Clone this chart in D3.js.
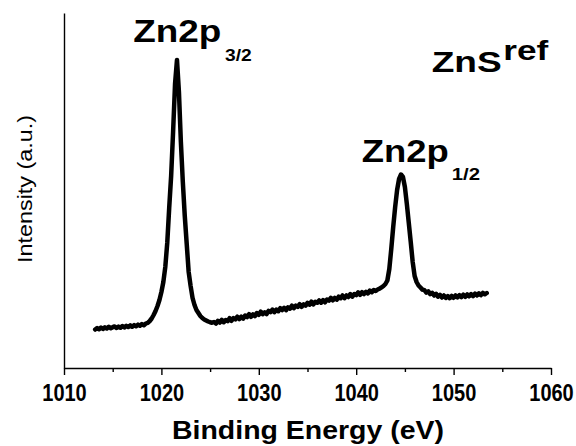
<!DOCTYPE html>
<html>
<head>
<meta charset="utf-8">
<script src="https://cdn.jsdelivr.net/npm/d3@7"></script>
<style>
  html, body { margin: 0; padding: 0; background: #fff; }
  svg { display: block; }
  text { font-family: "Liberation Sans", Arial, Helvetica, sans-serif; fill: #000; }
</style>
</head>
<body>
<svg id="chart" width="576" height="446"></svg>
<script>
// Binding energy grid (eV)
const energy = [
  1013.2,1013.4,1013.6,1013.8,1014.0,1014.2,1014.4,1014.6,1014.8,1015.0,1015.2,1015.4,1015.6,1015.8,1016.0,1016.2,1016.4,1016.6,1016.8,1017.0,
  1017.2,1017.4,1017.6,1017.8,1018.0,1018.2,1018.4,1018.6,1018.8,
  1019.0,1019.2,1019.4,1019.6,1019.8,1020.0,1020.2,1020.4,1020.6,1020.8,1021.0,1021.2,1021.4,1021.6,1021.8,1022.0,1022.2,1022.4,1022.6,1022.8,
  1023.0,1023.2,1023.4,1023.6,1023.8,1024.0,1024.2,1024.4,1024.6,1024.8,1025.0,
  1025.2,1025.4,1025.6,1025.8,1026.0,1026.2,1026.4,1026.6,1026.8,1027.0,1027.2,1027.4,1027.6,1027.8,1028.0,1028.2,1028.4,1028.6,1028.8,1029.0,
  1029.2,1029.4,1029.6,1029.8,1030.0,1030.2,1030.4,1030.6,1030.8,1031.0,1031.2,1031.4,1031.6,1031.8,1032.0,1032.2,1032.4,1032.6,1032.8,1033.0,
  1033.2,1033.4,1033.6,1033.8,1034.0,1034.2,1034.4,1034.6,1034.8,1035.0,1035.2,1035.4,1035.6,1035.8,1036.0,1036.2,1036.4,1036.6,1036.8,1037.0,
  1037.2,1037.4,1037.6,1037.8,1038.0,1038.2,1038.4,1038.6,1038.8,1039.0,1039.2,1039.4,1039.6,1039.8,1040.0,1040.2,1040.4,1040.6,1040.8,1041.0,
  1041.2,1041.4,1041.6,1041.8,1042.0,
  1042.2,1042.4,1042.6,1042.8,1043.0,1043.2,1043.4,1043.6,1043.8,1044.0,1044.2,1044.4,1044.6,1044.8,1045.0,1045.2,1045.4,1045.6,1045.8,1046.0,
  1046.2,1046.4,1046.6,1046.8,1047.0,
  1047.2,1047.4,1047.6,1047.8,1048.0,1048.2,1048.4,1048.6,1048.8,1049.0,1049.2,1049.4,1049.6,1049.8,1050.0,1050.2,1050.4,1050.6,1050.8,1051.0,
  1051.2,1051.4,1051.6,1051.8,1052.0,1052.2,1052.4,1052.6,1052.8,1053.0,1053.2,1053.4
];

// Intensity (a.u.)
const intensity = [
  38.5,39.9,38.8,40.4,39.1,40.7,39.5,41.2,39.7,40.8,41.6,40.0,41.4,40.3,42.0,40.6,42.2,41.0,42.6,41.2,
  42.9,41.7,43.4,42.3,43.9,42.8,44.5,45.2,47.0,
  49.5,53,57,62,68,76,86,101,125,160,192,236,284,308,276,226,186,152,124,96,
  82,70,63,58,55,52,50,48.5,47.5,46.5,45.8,
  45.3,46.0,44.4,47.1,45.4,48.1,45.8,48.0,46.8,49.8,47.2,49.9,48.7,51.3,49.0,51.3,49.4,52.5,50.9,53.8,
  51.2,53.7,51.8,55.0,53.2,56.4,53.8,55.7,54.0,57.1,55.9,58.4,55.8,58.4,56.8,59.8,58.0,60.2,57.8,60.7,
  59.3,62.4,59.8,62.4,61.2,63.8,61.2,63.6,62.3,65.1,63.3,66.4,63.6,66.2,65.2,67.6,65.3,67.9,65.7,68.5,
  67.3,70.1,67.7,70.1,68.3,71.4,69.8,72.5,69.9,72.5,71.0,73.9,71.3,73.9,72.9,75.6,73.2,75.8,74.0,76.1,
  74.6,77.5,75.8,78.0,77.0,
  78.5,79.3,80.6,82.0,84.0,87.5,99,119,141,161,178,189,193.5,191,181,164,145,126,106,92,
  86,82.5,80.5,78.4,77.8,
  75.4,76.7,73.9,75.2,72.5,74.2,71.4,73.2,70.5,72.5,70.1,71.9,69.8,72.1,70.2,72.6,70.6,72.9,70.9,73.3,
  71.2,73.6,71.7,73.9,71.9,74.4,72.5,74.7,72.9,75.1,73.7,75.0
];

const xDomain = [1010, 1060];
const yDomain = [0, 355];
const xMajorTicks = [1010, 1020, 1030, 1040, 1050, 1060];
const xMinorTicks = [1015, 1025, 1035, 1045, 1055];

const xTitle = "Binding Energy (eV)";
const yTitle = "Intensity (a.u.)";
const peakLabels = [
  { main: "Zn2p", sub: "3/2", x: 133.3, y: 42.3, mainLen: 88, subX: 225, subY: 60.7, subLen: 26.7 },
  { main: "Zn2p", sub: "1/2", x: 361.7, y: 162.3, mainLen: 87, subX: 451.7, subY: 180, subLen: 28.3 }
];

const svg = d3.select("#chart");
const x = d3.scaleLinear().domain(xDomain).range([64, 551]);
const y = d3.scaleLinear().domain(yDomain).range([368, 13]);

const data = energy.map((e, i) => ({ e, v: intensity[i] }));

// y axis (line only)
const yAx = svg.append("g")
  .attr("transform", "translate(64,0)")
  .call(d3.axisLeft(y).tickValues([]).tickSizeOuter(0));
yAx.select(".domain").attr("stroke", "#000").attr("stroke-width", 1.4);

// x axis minor ticks
const xMinor = svg.append("g")
  .attr("transform", "translate(0,368)")
  .call(d3.axisBottom(x).tickValues(xMinorTicks).tickSize(4).tickFormat("").tickSizeOuter(0));
xMinor.select(".domain").remove();
xMinor.selectAll(".tick line").attr("stroke", "#000").attr("stroke-width", 1.4);

// x axis major
const xAx = svg.append("g")
  .attr("transform", "translate(0,368)")
  .call(d3.axisBottom(x).tickValues(xMajorTicks).tickSize(7).tickPadding(6.5).tickSizeOuter(0).tickFormat(d3.format("d")));
xAx.select(".domain").attr("stroke", "#000").attr("stroke-width", 1.4);
xAx.selectAll(".tick line").attr("stroke", "#000").attr("stroke-width", 1.4);
xAx.selectAll(".tick text")
  .attr("fill", "#000")
  .attr("transform", "scale(1,1.2)")
  .style("font-family", "'Liberation Sans', Arial, sans-serif")
  .style("font-weight", "bold")
  .style("font-size", "20px");

// spectrum line
const line = d3.line().x(d => x(d.e)).y(d => y(d.v)).curve(d3.curveLinear);
svg.append("path")
  .datum(data)
  .attr("d", line)
  .attr("fill", "none")
  .attr("stroke", "#000")
  .attr("stroke-width", 4.5)
  .attr("stroke-linejoin", "round")
  .attr("stroke-linecap", "round");

// axis titles
svg.append("text")
  .attr("x", 308).attr("y", 439)
  .attr("text-anchor", "middle")
  .style("font-weight", "bold").style("font-size", "26px")
  .attr("textLength", 272).attr("lengthAdjust", "spacingAndGlyphs")
  .text(xTitle);

svg.append("text")
  .attr("transform", "translate(32,189) rotate(-90)")
  .attr("text-anchor", "middle")
  .style("font-size", "20px")
  .attr("textLength", 148).attr("lengthAdjust", "spacingAndGlyphs")
  .text(yTitle);

// peak labels
peakLabels.forEach(p => {
  svg.append("text")
    .attr("x", p.x).attr("y", p.y)
    .style("font-weight", "bold").style("font-size", "31px")
    .attr("textLength", p.mainLen).attr("lengthAdjust", "spacingAndGlyphs")
    .text(p.main);
  svg.append("text")
    .attr("x", p.subX).attr("y", p.subY)
    .style("font-weight", "bold").style("font-size", "16px")
    .attr("textLength", p.subLen).attr("lengthAdjust", "spacingAndGlyphs")
    .text(p.sub);
});

// sample label
svg.append("text")
  .attr("x", 431.7).attr("y", 71.7)
  .style("font-weight", "bold").style("font-size", "30px")
  .attr("textLength", 70).attr("lengthAdjust", "spacingAndGlyphs")
  .text("ZnS");
svg.append("text")
  .attr("x", 503.3).attr("y", 60)
  .style("font-weight", "bold").style("font-size", "28px")
  .attr("textLength", 45).attr("lengthAdjust", "spacingAndGlyphs")
  .text("ref");
</script>
</body>
</html>
